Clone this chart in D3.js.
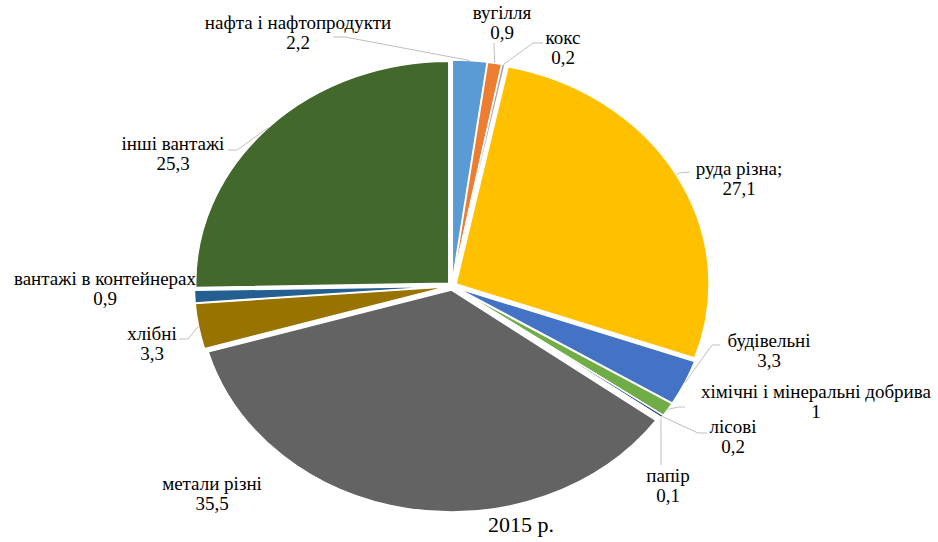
<!DOCTYPE html>
<html>
<head>
<meta charset="utf-8">
<script src="https://cdn.jsdelivr.net/npm/d3@7/dist/d3.min.js"></script>
<style>
  html, body { margin: 0; padding: 0; background: #fff; }
  svg { display: block; }
</style>
</head>
<body>
<svg id="chart" width="938" height="542"></svg>
<script>
// ---- data ----
const categories = [
  "нафта і нафтопродукти", "вугілля", "кокс", "руда різна;", "будівельні",
  "хімічні і мінеральні добрива", "лісові", "папір", "метали різні", "хлібні",
  "вантажі в контейнерах", "інші вантажі"
];
const values = [2.2, 0.9, 0.2, 27.1, 3.3, 1, 0.2, 0.1, 35.5, 3.3, 0.9, 25.3];
const colors = [
  "#5B9BD5", "#ED7D31", "#A5A5A5", "#FFC000", "#4472C4",
  "#70AD47", "#264478", "#9E480E", "#636363", "#997300",
  "#255E91", "#43682B"
];
const title = "2015 р.";

// ---- label layout (center x, first-line baseline y, leader start/elbow points) ----
const labelLayout = [
  {x: 298, y: 29, lead: [[333, 37], [345, 37]]},
  {x: 502, y: 19, lead: [[494, 43], [494, 45]]},
  {x: 563, y: 44, lead: [[543, 43], [533, 43]]},
  {x: 739, y: 175, lead: [[690, 172], [679, 173]]},
  {x: 769, y: 347, lead: [[720, 345], [712, 345]]},
  {x: 816, y: 398, lead: [[685, 407], [678, 407]]},
  {x: 733, y: 433, lead: [[707, 433], [698, 433]]},
  {x: 668, y: 482, lead: [[661, 465], [661, 462]]},
  {x: 212, y: 490, lead: null},
  {x: 152, y: 340, lead: [[179, 339], [188, 339]]},
  {x: 105, y: 285, lead: null},
  {x: 173, y: 150, lead: [[228, 150], [237, 150]]}
];

// ---- geometry ----
const cx = 452, cy = 286, r = 222, sx = 1.14, explode = 4;
const FONT = "'Liberation Serif', 'Times New Roman', 'DejaVu Serif', serif";

const svg = d3.select("#chart");
const data = categories.map((c, i) => ({cat: c, value: values[i], color: colors[i], layout: labelLayout[i]}));

const pie = d3.pie().sort(null).value(d => d.value).startAngle(0).endAngle(2 * Math.PI);
const arcs = pie(data);
const arc = d3.arc().innerRadius(0).outerRadius(r);

const g = svg.append("g").attr("transform", `translate(${cx},${cy}) scale(${sx},1)`);

g.selectAll("path.slice")
  .data(arcs)
  .join("path")
  .attr("class", "slice")
  .attr("d", arc)
  .attr("fill", d => d.data.color)
  .attr("stroke", "#fff")
  .attr("stroke-width", 1.5)
  .attr("vector-effect", "non-scaling-stroke")
  .attr("transform", d => {
    const m = (d.startAngle + d.endAngle) / 2;
    return `translate(${Math.sin(m) * explode},${-Math.cos(m) * explode})`;
  });

// leader lines
const edgePoint = d => {
  const m = (d.startAngle + d.endAngle) / 2;
  return [cx + sx * (r + explode) * Math.sin(m), cy - (r + explode) * Math.cos(m)];
};

svg.append("g").selectAll("polyline")
  .data(arcs.filter(d => d.data.layout.lead))
  .join("polyline")
  .attr("points", d => [...d.data.layout.lead, edgePoint(d)].map(p => p.join(",")).join(" "))
  .attr("fill", "none")
  .attr("stroke", "#BFBFBF")
  .attr("stroke-width", 1);

// labels
const fmt = v => String(v).replace(".", ",");
const lbl = svg.append("g").selectAll("text")
  .data(arcs)
  .join("text")
  .attr("text-anchor", "middle")
  .attr("font-family", FONT)
  .attr("font-size", 19)
  .attr("fill", "#000")
  .attr("x", d => d.data.layout.x)
  .attr("y", d => d.data.layout.y);
lbl.append("tspan").attr("x", d => d.data.layout.x).text(d => d.data.cat);
lbl.append("tspan").attr("x", d => d.data.layout.x).attr("dy", 19.5).text(d => fmt(d.data.value));

svg.append("text")
  .attr("x", 521).attr("y", 532)
  .attr("text-anchor", "middle")
  .attr("font-family", FONT)
  .attr("font-size", 22)
  .attr("fill", "#000")
  .text(title);
</script>
</body>
</html>
